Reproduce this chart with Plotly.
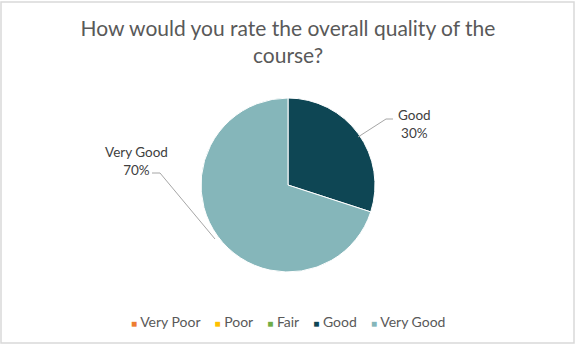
import plotly.graph_objects as go

categories = ["Very Poor", "Poor", "Fair", "Good", "Very Good"]
values = [0, 0, 0, 30, 70]
colors = ["#ED7D31", "#FFC000", "#70AD47", "#0E4654", "#85B6BA"]
title_text = "How would you rate the overall quality of the<br>course?"

W, H = 576, 346

def px(x):
    return x / W

def py(y):
    return 1 - y / H

fig = go.Figure()
fig.add_trace(go.Pie(
    labels=categories,
    values=values,
    marker=dict(colors=colors, line=dict(color="white", width=1)),
    sort=False,
    direction="clockwise",
    rotation=0,
    textinfo="none",
    hoverinfo="label+percent",
    showlegend=False,
    domain=dict(x=[px(201), px(375)], y=[py(272), py(98)]),
))

FONT = "Lato, Carlito, sans-serif"
total = sum(values)
label_font = dict(family=FONT, size=13.5, color="#404040")
# label positions (layout), text from data
label_pos = {"Good": (414, 124), "Very Good": (136, 161)}
for cat, v in zip(categories, values):
    if v > 0 and cat in label_pos:
        lx, ly = label_pos[cat]
        fig.add_annotation(
            x=px(lx), y=py(ly), xref="paper", yref="paper",
            xanchor="center", yanchor="middle",
            text=f"{cat}<br>{round(100 * v / total)}%",
            showarrow=False, font=label_font, align="center",
        )

# leader lines
fig.add_shape(type="path", xref="paper", yref="paper",
              path=f"M {px(393)} {py(119)} L {px(386)} {py(119)} L {px(358)} {py(137)}",
              line=dict(color="#A6A6A6", width=1))
fig.add_shape(type="path", xref="paper", yref="paper",
              path=f"M {px(152)} {py(173)} L {px(160)} {py(173)} L {px(215)} {py(239)}",
              line=dict(color="#A6A6A6", width=1))

# legend (Excel style: small squares, tight spacing)
sq = "<span style='font-size:10px;color:{c}'>\u25A0</span>"
gap = "\u00a0" * 4
legend_text = gap.join(sq.format(c=c) + "\u00a0" + cat for cat, c in zip(categories, colors))
fig.add_annotation(
    x=0.5, y=py(321), xref="paper", yref="paper", xanchor="center", yanchor="middle",
    text=legend_text, showarrow=False,
    font=dict(family=FONT, size=14, color="#595959"),
)

# chart border
fig.add_shape(type="rect", xref="paper", yref="paper",
              x0=px(1), x1=px(574), y0=py(343), y1=py(2),
              line=dict(color="#D9D9D9", width=1.5))

fig.update_layout(
    width=W, height=H,
    margin=dict(l=0, r=0, t=0, b=0),
    paper_bgcolor="white",
    plot_bgcolor="white",
    title=dict(text=title_text, x=0.5, xanchor="center", y=py(36), yanchor="middle",
               font=dict(family=FONT, size=21, color="#595959")),
    showlegend=False,
)

fig.write_html("out.html")
